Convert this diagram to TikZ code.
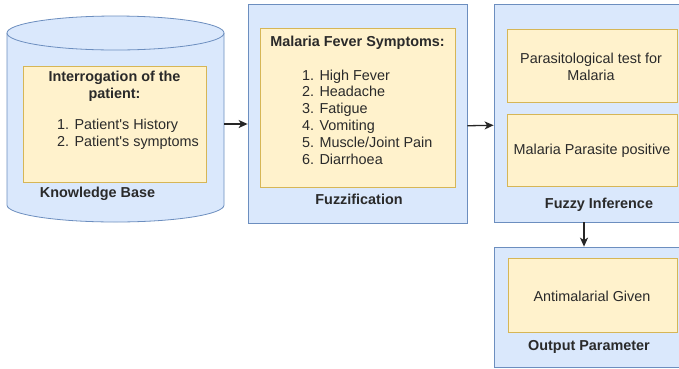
\documentclass[tikz,border=0pt]{standalone}
\usepackage{fontspec}
\setmainfont{Liberation Sans}
\usetikzlibrary{arrows.meta}
\definecolor{bluefill}{HTML}{DAE8FC}
\definecolor{blueline}{HTML}{6C8EBF}
\definecolor{yelfill}{HTML}{FFF2CC}
\definecolor{yelline}{HTML}{D6B656}
\definecolor{txt}{HTML}{2A2A2A}
\tikzset{
  outerbox/.style={draw=blueline, fill=bluefill, line width=0.8pt, inner sep=0pt},
  innerbox/.style={draw=yelline, fill=yelfill, line width=0.8pt, inner sep=0pt},
  lbl/.style={inner sep=0pt, text=txt, font=\fontsize{14.4}{16.8}\selectfont},
  bold/.style={lbl, font=\fontsize{14.4}{16.8}\selectfont\bfseries},
  arr/.style={-{Stealth[length=9pt,width=8pt,inset=2.5pt]}, line width=1.3pt, draw=black!85},
}
\begin{document}
\begin{tikzpicture}[x=1pt, y=-1pt]
\clip (0,0) rectangle (679,368);
\fill[white] (0,0) rectangle (679,368);

% knowledge base drum
\path[fill=bluefill, draw=blueline, line width=0.8pt]
  (7,33) -- (7,205) arc[start angle=180, end angle=360, x radius=108.5pt, y radius=17pt]
  -- (224,33) arc[start angle=0, end angle=180, x radius=108.5pt, y radius=17pt] -- cycle;
\draw[blueline, line width=0.8pt]
  (7,33) arc[start angle=180, end angle=360, x radius=108.5pt, y radius=17pt];
\node[inner sep=0pt, minimum width=217pt, minimum height=206pt] (kb) at (115.5,119) {};

% outer containers
\node[outerbox, minimum width=219pt, minimum height=218.5pt] (fz) at (357.5,113.75) {};
\node[outerbox, minimum width=197pt, minimum height=217.5pt] (fi) at (592.5,113.25) {};
\node[outerbox, minimum width=197pt, minimum height=120pt] (op) at (592.5,307) {};

% inner cards
\node[innerbox, minimum width=183pt, minimum height=116pt] (kbi) at (114.5,124) {};
\node[innerbox, minimum width=195pt, minimum height=159pt] (fzi) at (357.5,107.5) {};
\node[innerbox, minimum width=170pt, minimum height=73pt] (fia) at (592,65.5) {};
\node[innerbox, minimum width=170pt, minimum height=72pt] (fib) at (592,150) {};
\node[innerbox, minimum width=169pt, minimum height=74pt] (opi) at (592.5,295) {};

% texts
\node[bold, align=center] (kbt) at (114.5,86) {Interrogation of the\\patient:};
\node[lbl, align=left, anchor=west] (kbl) at (57,134)
  {1. Patient\textquotesingle s History\\2. Patient\textquotesingle s symptoms};
\node[bold] (kbn) at (97.5,194) {Knowledge Base};

\node[bold] (fzt) at (357.5,43) {Malaria Fever Symptoms:};
\node[lbl, align=left, anchor=west] (fzl) at (302,117)
  {1. High Fever\\2. Headache\\3. Fatigue\\4. Vomiting\\5. Muscle/Joint Pain\\6. Diarrhoea};
\node[bold] (fzn) at (359,199) {Fuzzification};

\node[lbl, align=center] (fiat) at (591,67) {Parasitological test for\\Malaria};
\node[lbl] (fibt) at (592,151) {Malaria Parasite positive};
\node[bold] (fin) at (599,205) {Fuzzy Inference};

\node[lbl] (opt) at (592,296) {Antimalarial Given};
\node[bold] (opn) at (589,347) {Output Parameter};

% connectors
\draw[arr] (kb.east |- kbi.center) -- (fz.west |- kbi.center);
\draw[arr] ([yshift=-12pt]fz.east) -- ([yshift=-12pt]fi.west);
\draw[arr] ([xshift=-8.5pt]fi.south) -- ([xshift=-8.5pt]op.north);
\end{tikzpicture}
\end{document}
